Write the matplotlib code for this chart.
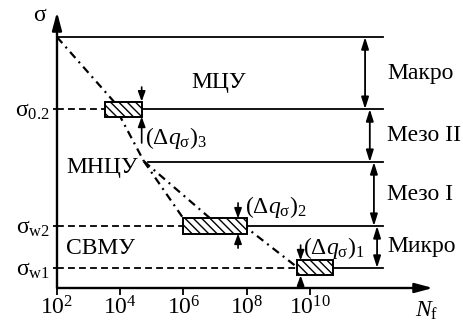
import matplotlib.pyplot as plt
from matplotlib.patches import Rectangle

plt.rcParams["font.family"] = ["Liberation Serif", "DejaVu Serif"]
plt.rcParams["mathtext.fontset"] = "custom"
plt.rcParams["mathtext.rm"] = "Liberation Serif"
plt.rcParams["mathtext.it"] = "Liberation Serif:italic"
plt.rcParams["mathtext.bf"] = "Liberation Serif:bold"
plt.rcParams["hatch.linewidth"] = 1.0

# уровни напряжений (доля от верхнего уровня)
LEVEL_TOP = 1.0
SIGMA_02 = 0.713
LEVEL_MID = 0.502
SIGMA_W2 = 0.247
SIGMA_W1 = 0.080
LEVELS = [LEVEL_TOP, SIGMA_02, LEVEL_MID, SIGMA_W2, SIGMA_W1]

X_TICKS = [1e2, 1e4, 1e6, 1e8, 1e10]
X_TICK_LABELS = [r"$10^{2}$", r"$10^{4}$", r"$10^{6}$", r"$10^{8}$", r"$10^{10}$"]
Y_TICKS = [SIGMA_W1, SIGMA_W2, SIGMA_02]
Y_TICK_LABELS = [r"$\mathrm{\sigma_{w1}}$", r"$\mathrm{\sigma_{w2}}$", r"$\mathrm{\sigma_{0.2}}$"]

# зоны разброса (Δq_σ)_i
BOX_LEFT = [10 ** 3.52, 10 ** 6.0, 10 ** 9.59]
BOX_RIGHT = [10 ** 4.68, 10 ** 8.0, 10 ** 10.73]
BOX_LEVEL = [SIGMA_02, SIGMA_W2, SIGMA_W1]
BOX_HALF = 0.03
DQ_ARROW_X = [10 ** 4.68, 10 ** 7.73, 10 ** 9.71]
DQ_DOWN_FROM = [0.801, 0.339, 0.171]
DQ_UP_FROM = [0.578, 0.159, 0.0]
DQ_LABELS = [r"$(\Delta q_{\mathrm{\sigma}})_3$", r"$(\Delta q_{\mathrm{\sigma}})_2$",
             r"$(\Delta q_{\mathrm{\sigma}})_1$"]
DQ_LABEL_X = [10 ** 4.78, 10 ** 7.95, 10 ** 9.78]
DQ_LABEL_Y = [0.598, 0.323, 0.159]

# кривая усталости (штрихпунктир)
CURVE_MAIN_N = [1e2, 10 ** 3.8, 10 ** 4.0, 10 ** 4.75]
CURVE_MAIN_S = [1.0, 0.743, 0.683, 0.505]
CURVE_STEEP_N = [10 ** 4.75, 1e6]
CURVE_STEEP_S = [0.505, 0.277]
CURVE_FLAT_N = [10 ** 4.75, 10 ** 6.9, 10 ** 8.01, 10 ** 9.59]
CURVE_FLAT_S = [0.505, 0.272, 0.239, 0.084]

REGION_NAMES = ["МЦУ", "МНЦУ", "СВМУ"]
REGION_X = [10 ** 7.13, 10 ** 3.42, 10 ** 3.39]
REGION_Y = [0.82, 0.482, 0.159]

SCALE_NAMES = ["Макро", "Мезо II", "Мезо I", "Микро"]
SCALE_ARROW_X = [10 ** 11.75, 10 ** 11.9, 10 ** 12.03, 10 ** 12.13]
SCALE_LABEL_X = 10 ** 12.44

MID_LINE_START = 10 ** 4.88
LINE_END = 10 ** 12.32
X_MAX = 10 ** 13.9
Y_MAX = 1.10

FS = 17

fig = plt.figure(figsize=(4.63, 3.22), dpi=100)
ax = fig.add_axes([0.1231, 0.1056, 0.8121, 0.8571])
ax.set_xscale("log")
ax.set_xlim(1e2, X_MAX)
ax.set_ylim(0, Y_MAX)
for spine in ax.spines.values():
    spine.set_visible(False)

ax.set_xticks(X_TICKS)
ax.set_xticklabels(X_TICK_LABELS)
ax.xaxis.set_minor_locator(plt.NullLocator())
ax.set_yticks(Y_TICKS)
ax.set_yticklabels(Y_TICK_LABELS)
ax.tick_params(axis="x", direction="out", length=5, width=1.3, pad=1, labelsize=FS)
ax.tick_params(axis="y", direction="out", length=3, width=1.3, pad=2, labelsize=FS)

axis_arrow = dict(arrowstyle="-|>,head_length=0.9,head_width=0.24", mutation_scale=12,
                  lw=1.7, color="black", shrinkA=0, shrinkB=0)
ax.annotate("", xy=(X_MAX, 0), xytext=(1e2, 0), arrowprops=axis_arrow, annotation_clip=False)
ax.annotate("", xy=(1e2, Y_MAX), xytext=(1e2, 0), arrowprops=axis_arrow, annotation_clip=False)
ax.text(10 ** 1.46, 1.088, "σ", fontsize=FS, ha="center", va="center")
ax.text(10 ** 13.7, -0.115, r"$N_{\mathrm{f}}$", fontsize=FS, ha="center", va="baseline")

lw_line = 1.3
dash = (0, (3.8, 2.3))
dashdot = (0, (3.6, 2.2, 0.9, 2.2))

# горизонтальные уровни
ax.plot([1e2, LINE_END], [LEVEL_TOP, LEVEL_TOP], color="black", lw=lw_line)
ax.plot([MID_LINE_START, LINE_END], [LEVEL_MID, LEVEL_MID], color="black", lw=lw_line)
for left, right, level in zip(BOX_LEFT, BOX_RIGHT, BOX_LEVEL):
    ax.plot([1e2, left], [level, level], color="black", lw=lw_line, linestyle=dash)
    ax.plot([right, LINE_END], [level, level], color="black", lw=lw_line)

# кривая
for xs, ys in [(CURVE_MAIN_N, CURVE_MAIN_S), (CURVE_STEEP_N, CURVE_STEEP_S),
               (CURVE_FLAT_N, CURVE_FLAT_S)]:
    ax.plot(xs, ys, color="black", lw=1.6, linestyle=dashdot, zorder=2)

# заштрихованные зоны
for left, right, level in zip(BOX_LEFT, BOX_RIGHT, BOX_LEVEL):
    ax.add_patch(Rectangle((left, level - BOX_HALF), right - left, 2 * BOX_HALF,
                           facecolor="white", edgecolor="black", lw=1.4,
                           hatch="\\\\\\\\", zorder=3))

small_arrow = dict(arrowstyle="-|>,head_length=0.6,head_width=0.22", mutation_scale=10,
                   lw=1.2, color="black", shrinkA=0, shrinkB=0)
for x, level, down, up in zip(DQ_ARROW_X, BOX_LEVEL, DQ_DOWN_FROM, DQ_UP_FROM):
    ax.annotate("", xy=(x, level + BOX_HALF), xytext=(x, down), arrowprops=small_arrow, zorder=4)
    ax.annotate("", xy=(x, level - BOX_HALF), xytext=(x, up), arrowprops=small_arrow, zorder=4)
for label, x, y in zip(DQ_LABELS, DQ_LABEL_X, DQ_LABEL_Y):
    ax.text(x, y, label, fontsize=FS, ha="left", va="center")

for name, x, y in zip(REGION_NAMES, REGION_X, REGION_Y):
    ax.text(x, y, name, fontsize=FS, ha="center", va="center")

# масштабные уровни справа
scale_arrow = dict(arrowstyle="<|-|>,head_length=0.7,head_width=0.22", mutation_scale=10,
                   lw=1.3, color="black", shrinkA=0, shrinkB=0)
for i, (name, x) in enumerate(zip(SCALE_NAMES, SCALE_ARROW_X)):
    upper, lower = LEVELS[i], LEVELS[i + 1]
    ax.annotate("", xy=(x, lower), xytext=(x, upper), arrowprops=scale_arrow)
    ax.text(SCALE_LABEL_X, (upper + lower) / 2, name, fontsize=FS, ha="left", va="center",
            clip_on=False)

fig.savefig("out.png", dpi=100)
